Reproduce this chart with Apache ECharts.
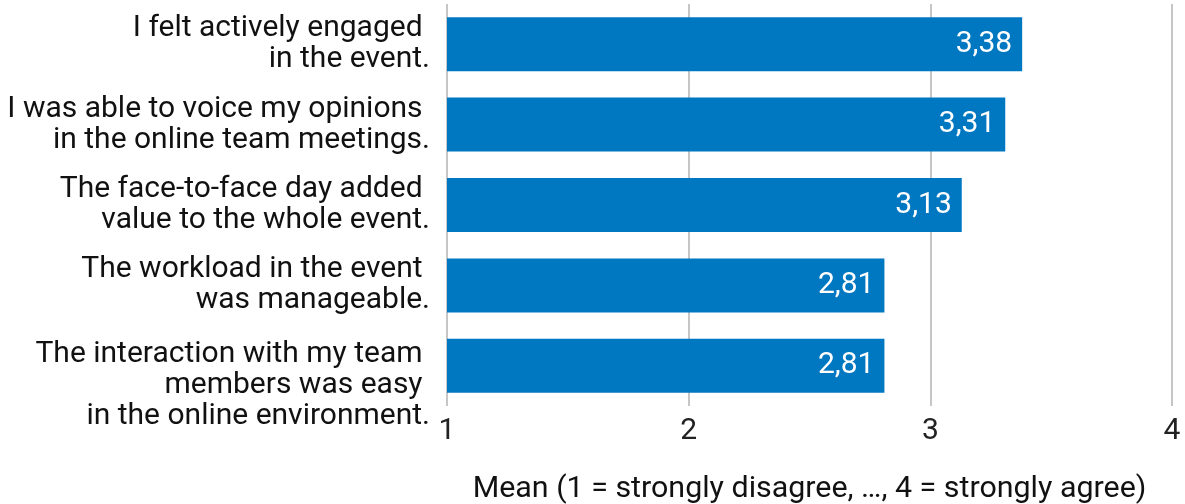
<!DOCTYPE html>
<html>
<head>
<meta charset="utf-8">
<script src="https://cdn.jsdelivr.net/npm/echarts@6/dist/echarts.min.js"></script>
<style>html,body{margin:0;padding:0;background:#fff}#c{width:1185px;height:504px}</style>
</head>
<body>
<div id="c"></div>
<script>
var categories = [
  "I felt actively engaged \nin the event.",
  "I was able to voice my opinions \nin the online team meetings.",
  "The face-to-face day added \nvalue to the whole event.",
  "The workload in the event \nwas manageable.",
  "The interaction with my team \nmembers was easy \nin the online environment."
];
var values = [3.38, 3.31, 3.13, 2.81, 2.81];
var xTicks = [1, 2, 3, 4];
var axisTitle = "Mean (1 = strongly disagree, \u2026, 4 = strongly agree)";

var chart = echarts.init(document.getElementById('c'), null, {renderer: 'canvas'});
chart.setOption({
  animation: false,
  textStyle: {fontFamily: 'Roboto'},
  grid: {left: 447, right: 13, top: 4, bottom: 98, containLabel: false, outerBoundsMode: 'none'},
  xAxis: {
    type: 'value', min: xTicks[0], max: xTicks[xTicks.length - 1], interval: 1,
    axisLine: {show: false}, axisTick: {show: false},
    splitLine: {show: true, lineStyle: {color: '#b3b3b3', width: 1.5}},
    axisLabel: {color: '#222', fontSize: 30, fontFamily: 'Roboto', margin: 10},
    name: axisTitle, nameLocation: 'middle', nameGap: 68,
    nameTextStyle: {color: '#111', fontSize: 30.4, fontFamily: 'Roboto'}
  },
  yAxis: {
    type: 'category', data: categories, inverse: true,
    axisLine: {show: false}, axisTick: {show: false},
    axisLabel: {
      interval: 0, hideOverlap: false,
      color: '#111', fontSize: 30, fontFamily: 'Roboto', margin: 17, lineHeight: 31, align: 'right',
      formatter: function (v) {
        var lines = v.split('\n');
        if (lines.length > 2) {
          return '{s| }\n' + lines.map(function (l) { return '{t|' + l + '}'; }).join('\n');
        }
        return v;
      },
      rich: {
        s: {fontSize: 10, lineHeight: 40},
        t: {fontSize: 30, lineHeight: 31, color: '#111', fontFamily: 'Roboto'}
      }
    }
  },
  series: [{
    type: 'bar', data: values, barWidth: 54, itemStyle: {color: '#0077c1'},
    label: {show: true, position: 'insideRight', color: '#fff', fontSize: 30, fontFamily: 'Roboto', distance: 10,
      formatter: function (p) { return p.value.toFixed(2).replace('.', ','); }}
  }]
});
</script>
</body>
</html>
